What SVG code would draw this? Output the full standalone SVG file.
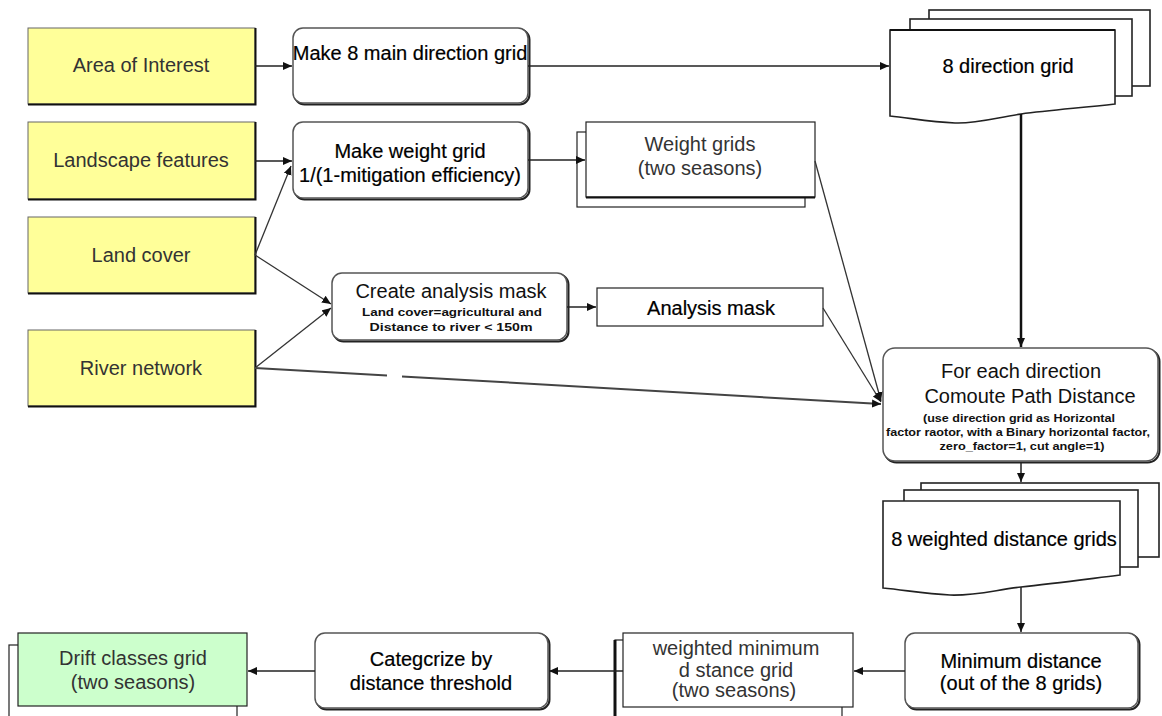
<svg xmlns="http://www.w3.org/2000/svg" width="1162" height="716" viewBox="0 0 1162 716">
  <style>
    .lbl { font-family: "Liberation Sans", Arial, sans-serif; font-size: 20px; fill: #111; text-anchor: middle; }
    .heavy { fill: #000; stroke: #000; stroke-width: 0.2; }
    .soft { fill: #333; }
    .small { font-family: "Liberation Sans", Arial, sans-serif; font-size: 11.5px; font-weight: bold; fill: #111; text-anchor: middle; }
    .src { fill: #ffff99; stroke: #666; stroke-width: 1; }
    .src-sh { fill: none; stroke: #111; stroke-width: 2; }
    .proc { fill: #fff; stroke: #555; stroke-width: 1.5; }
    .proc-sh { fill: none; stroke: #222; stroke-width: 2; }
    .data { fill: #fff; stroke: #222; stroke-width: 1.2; }
    .doc { fill: #fff; stroke: #222; stroke-width: 1.6; }
    .conn { fill: none; stroke: #222; stroke-width: 1.5; marker-end: url(#arrow); }
    .thin { stroke: #333; stroke-width: 1.3; }
    .bold-line { stroke: #111; stroke-width: 2.5; }
    .river { stroke: #444; stroke-width: 2; }
  </style>
  <defs>
    <marker id="arrow" markerUnits="userSpaceOnUse" markerWidth="10" markerHeight="10" refX="9" refY="4" orient="auto">
      <path d="M0,0 L9,4 L0,8 z" fill="#111"/>
    </marker>
  </defs>

  <!-- input layers -->
  <g id="area-of-interest">
    <rect class="src" x="28" y="28" width="227" height="76"/>
    <path class="src-sh" d="M28,104.5 H255.5 V28"/>
    <text class="lbl soft" x="141" y="72">Area of Interest</text>
  </g>
  <g id="landscape-features">
    <rect class="src" x="28" y="122" width="227" height="77"/>
    <path class="src-sh" d="M28,199.5 H255.5 V122"/>
    <text class="lbl soft" x="141" y="167">Landscape features</text>
  </g>
  <g id="land-cover">
    <rect class="src" x="28" y="217" width="227" height="76"/>
    <path class="src-sh" d="M28,293.5 H255.5 V217"/>
    <text class="lbl soft" x="141" y="262">Land cover</text>
  </g>
  <g id="river-network">
    <rect class="src" x="28" y="330" width="227" height="76"/>
    <path class="src-sh" d="M28,406.5 H255.5 V330"/>
    <text class="lbl soft" x="141" y="375">River network</text>
  </g>

  <!-- processing steps -->
  <g id="make-direction-grid">
    <rect class="proc-sh" x="294.5" y="29.5" width="235" height="75" rx="10"/>
    <rect class="proc" x="293" y="28" width="235" height="75" rx="10"/>
    <text class="lbl heavy" x="410" y="60">Make 8 main direction grid</text>
  </g>
  <g id="make-weight-grid">
    <rect class="proc-sh" x="294.5" y="123.5" width="235" height="76" rx="10"/>
    <rect class="proc" x="293" y="122" width="235" height="76" rx="10"/>
    <text class="lbl heavy" x="410" y="158">Make weight grid</text>
    <text class="lbl heavy" x="410" y="182">1/(1-mitigation efficiency)</text>
  </g>
  <g id="create-analysis-mask">
    <rect class="proc-sh" x="333.5" y="274.5" width="235" height="67" rx="10"/>
    <rect class="proc" x="332" y="273" width="235" height="67" rx="10"/>
    <text class="lbl" x="451" y="298">Create analysis mask</text>
    <text class="small" x="452" y="316" textLength="180" lengthAdjust="spacingAndGlyphs">Land cover=agricultural and</text>
    <text class="small" x="451" y="331" textLength="163" lengthAdjust="spacingAndGlyphs">Distance to river &lt; 150m</text>
  </g>
  <g id="compute-path-distance">
    <rect class="proc-sh" x="884.5" y="349.5" width="275" height="113" rx="12"/>
    <rect class="proc" x="883" y="348" width="275" height="113" rx="12"/>
    <text class="lbl" x="1021" y="378">For each direction</text>
    <text class="lbl" x="1030" y="403">Comoute Path Distance</text>
    <text class="small" x="1019" y="422" textLength="192" lengthAdjust="spacingAndGlyphs">(use direction grid as Horizontal</text>
    <text class="small" x="1018" y="436" textLength="264" lengthAdjust="spacingAndGlyphs">factor raotor, with a Binary horizontal factor,</text>
    <text class="small" x="1022" y="450" textLength="165" lengthAdjust="spacingAndGlyphs">zero_factor=1, cut angle=1)</text>
  </g>
  <g id="minimum-distance">
    <rect class="proc-sh" x="906.5" y="634.5" width="233" height="75" rx="10"/>
    <rect class="proc" x="905" y="633" width="233" height="75" rx="10"/>
    <text class="lbl heavy" x="1021" y="668">Minimum distance</text>
    <text class="lbl heavy" x="1021" y="690">(out of the 8 grids)</text>
  </g>
  <g id="categorize">
    <rect class="proc-sh" x="316.5" y="634.5" width="233" height="75" rx="10"/>
    <rect class="proc" x="315" y="633" width="233" height="75" rx="10"/>
    <text class="lbl heavy" x="431" y="666">Categcrize by</text>
    <text class="lbl heavy" x="431" y="690">distance threshold</text>
  </g>

  <!-- data products -->
  <g id="direction-grids">
    <rect class="doc" x="929" y="10" width="221" height="76"/>
    <rect class="doc" x="910" y="19" width="222" height="77"/>
    <path class="doc" d="M890,30 H1115 V104 C1080,108 1050,110 1021,114 C995,118 975,124 955,123 C930,122 910,118 890,116 Z"/>
    <path d="M890,30 H1115" stroke="#111" stroke-width="2.2" fill="none"/>
    <text class="lbl heavy" x="1008" y="73">8 direction grid</text>
  </g>
  <g id="weight-grids">
    <rect class="data" x="577" y="132" width="228" height="75"/>
    <rect class="data" x="586" y="122" width="229" height="75"/>
    <path d="M586,197.5 H815" stroke="#111" stroke-width="2.2" fill="none"/>
    <text class="lbl soft" x="700" y="151">Weight grids</text>
    <text class="lbl soft" x="700" y="175">(two seasons)</text>
  </g>
  <g id="analysis-mask">
    <rect class="data" x="597" y="288" width="226" height="38" stroke-width="1.6"/>
    <text class="lbl heavy" x="711" y="315">Analysis mask</text>
  </g>
  <g id="weighted-distance-grids">
    <rect class="doc" x="921" y="483" width="238" height="74"/>
    <rect class="doc" x="904" y="490" width="234" height="77"/>
    <path class="doc" d="M883,501 H1120 V575 C1080,580 1050,584 1021,587 C995,590 975,596 950,595 C925,594 905,590 883,588 Z"/>
    <text class="lbl heavy" x="1004" y="546">8 weighted distance grids</text>
  </g>
  <g id="weighted-minimum-grid">
    <rect class="data" x="615" y="640" width="227" height="90"/>
    <path d="M615,640 V716" stroke="#111" stroke-width="3" fill="none"/>
    <rect class="data" x="623" y="633" width="230" height="74"/>
    <text class="lbl soft" x="736" y="655">weighted minimum</text>
    <text class="lbl soft" x="736" y="677">d stance grid</text>
    <text class="lbl soft" x="734" y="697">(two seasons)</text>
  </g>
  <g id="drift-classes-grid">
    <rect class="data" x="9" y="645" width="228" height="85"/>
    <rect x="18" y="633" width="229" height="73" fill="#ccffcc" stroke="#222" stroke-width="1.2"/>
    <text class="lbl soft" x="133" y="665">Drift classes grid</text>
    <text class="lbl soft" x="133" y="689">(two seasons)</text>
  </g>

  <!-- connectors -->
  <g id="connectors">
    <path class="conn" d="M255,66 H292"/>
    <path class="conn" d="M528,66 H889"/>
    <path class="conn" d="M255,161 H292"/>
    <path class="conn thin" d="M255,255 L291,166"/>
    <path class="conn thin" d="M255,255 L331,304"/>
    <path class="conn thin" d="M255,368 L331,308"/>
    <path class="conn river" d="M255,368 L387,375.6 M402,376.4 L881,404"/>
    <path class="conn" d="M528,160 H585"/>
    <path class="conn" d="M567,307 H596"/>
    <path class="conn thin" d="M815,161 L881,401"/>
    <path class="conn thin" d="M823,308 L881,402"/>
    <path class="conn bold-line" d="M1021,114 V347"/>
    <path class="conn" d="M1021,462 V482"/>
    <path class="conn" d="M1021,587 V632"/>
    <path class="conn" d="M905,671 H854"/>
    <path class="conn" d="M623,671 H549"/>
    <path class="conn" d="M315,671 H248"/>
  </g>
</svg>
